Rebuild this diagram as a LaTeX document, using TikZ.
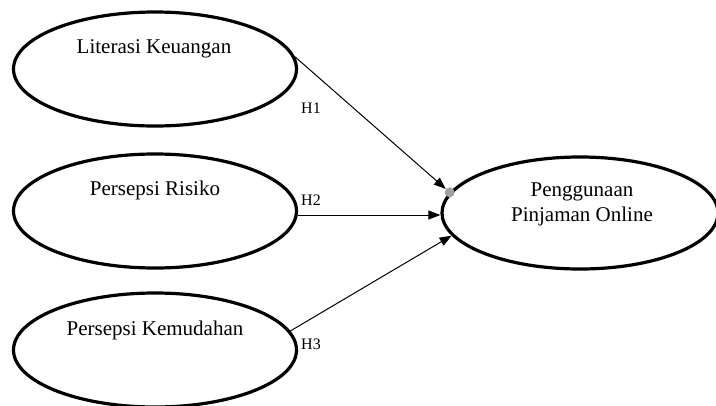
\documentclass[tikz,border=0pt]{standalone}
\usepackage{fontspec}
\setmainfont{Liberation Serif}
\usetikzlibrary{shapes.geometric,arrows.meta}
\begin{document}
\begin{tikzpicture}[x=1pt,y=-1pt,
  construct/.style={draw=black,line width=3.2pt,ellipse,inner sep=0pt},
  ctext/.style={font=\fontsize{21}{25}\selectfont,align=center,inner sep=0pt},
  hlabel/.style={font=\fontsize{16}{19}\selectfont,inner sep=0pt,anchor=west},
  conn/.style={draw=black,line width=1pt,-{Triangle[length=12pt,width=9pt]}}]
\useasboundingbox (0,0) rectangle (716,405);
\node[construct,minimum width=283pt,minimum height=114pt] (e1) at (155,69) {};
\node[construct,minimum width=283pt,minimum height=114pt] (e2) at (155,211) {};
\node[construct,minimum width=283pt,minimum height=114pt] (e3) at (155,350) {};
\node[construct,minimum width=276pt,minimum height=112pt] (e4) at (580,213) {};
\node[ctext] (t1) at (154,49) {Literasi Keuangan};
\node[ctext] (t2) at (155,190) {Persepsi Risiko};
\node[ctext] (t3) at (155,330) {Persepsi Kemudahan};
\node[ctext] (t4) at (582,204) {Penggunaan\\Pinjaman Online};
\coordinate (p1) at (e1.5);
\coordinate (p3) at (e3.8);
\node[circle,fill=gray!75,inner sep=0pt,minimum size=10pt] (dot) at (e4.171) {};
\draw[conn] (p1) -- (dot);
\draw[conn] (e2.east |- 0,215) coordinate (p2) -- (e4.west |- 0,215);
\draw[conn] (p3) -- (e4.190);
\node[hlabel] (h1) at (301,108) {H1};
\node[hlabel] (h2) at (301,200) {H2};
\node[hlabel] (h3) at (301,344) {H3};
\end{tikzpicture}
\end{document}
